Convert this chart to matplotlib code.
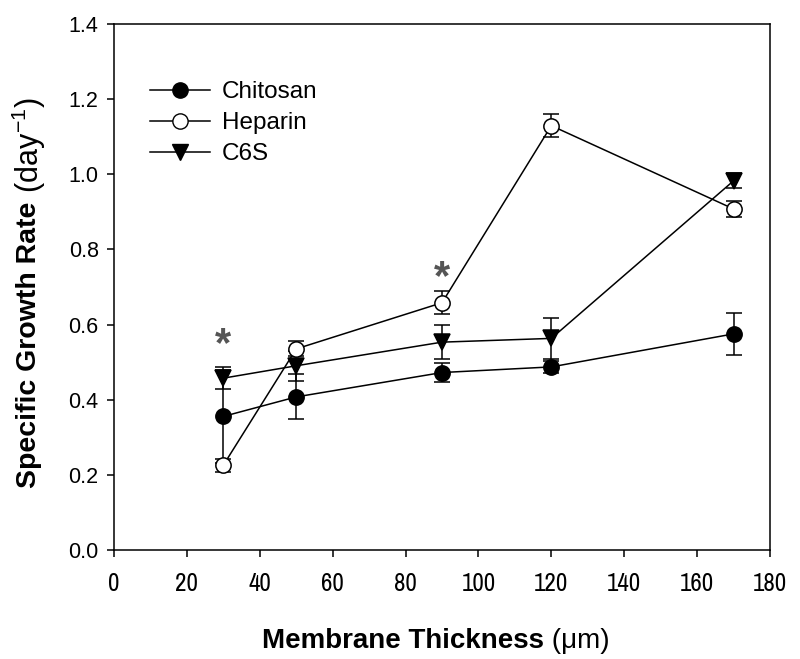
import numpy as np
import matplotlib
matplotlib.use('Agg')
from matplotlib import pyplot as plt
from matplotlib.lines import Line2D

thickness = [30, 50, 90, 120, 170]

chitosan = [0.355, 0.407, 0.472, 0.487, 0.575]
chitosan_err = [0.125, 0.06, 0.025, 0.015, 0.055]

heparin = [0.225, 0.535, 0.658, 1.13, 0.908]
heparin_err = [0.017, 0.02, 0.03, 0.03, 0.022]

c6s = [0.457, 0.49, 0.553, 0.563, 0.983]
c6s_err = [0.03, 0.04, 0.045, 0.055, 0.02]

star_x = [30, 90]
star_y = [0.545, 0.725]

x_ticks = [0, 20, 40, 60, 80, 100, 120, 140, 160, 180]
y_ticks = [0.0, 0.2, 0.4, 0.6, 0.8, 1.0, 1.2, 1.4]

plt.rcParams['font.family'] = ['Liberation Sans', 'DejaVu Sans']
plt.rcParams['mathtext.fontset'] = 'custom'
plt.rcParams['mathtext.rm'] = 'Liberation Sans'
plt.rcParams['mathtext.it'] = 'Liberation Sans:italic'
plt.rcParams['mathtext.bf'] = 'Liberation Sans:bold'
narrow = ['Archivo Narrow', 'Liberation Sans', 'DejaVu Sans']

fig = plt.figure(figsize=(8, 6.59), dpi=100)
ax = fig.add_axes([0.1425, 0.166, 0.82, 0.797])

common = dict(color='black', lw=1.1, elinewidth=1.1, capsize=6, capthick=1.1,
              markersize=11, markeredgewidth=1.1, markeredgecolor='black')
ax.errorbar(thickness, chitosan, yerr=chitosan_err, fmt='-o',
            markerfacecolor='black', zorder=3, **common)
ax.errorbar(thickness, c6s, yerr=c6s_err, fmt='-v',
            markerfacecolor='black', zorder=4, **common)
ax.errorbar(thickness, heparin, yerr=heparin_err, fmt='-o',
            markerfacecolor='white', zorder=5, **common)

for sx, sy in zip(star_x, star_y):
    ax.text(sx, sy, '*', fontsize=30, fontweight='bold', color='#555555',
            ha='center', va='center')

ax.set_xlim(0, 180)
ax.set_ylim(0, 1.4)
ax.set_xticks(x_ticks)
ax.set_xticklabels([str(t) for t in x_ticks], family=narrow, fontsize=18)
ax.set_yticks(y_ticks)
ax.set_yticklabels(['%.1f' % t for t in y_ticks], fontsize=15.5)
ax.tick_params(direction='out', length=5, width=1.1, pad=6)
ax.tick_params(axis='x', pad=11)
for s in ax.spines.values():
    s.set_linewidth(1.1)

xl = fig.text(0.3275, 0.017, 'Membrane Thickness', fontsize=20, fontweight='bold',
              ha='left', va='baseline')
ax.annotate(' (\u03bcm)', xy=(1, 0), xycoords=xl, fontsize=20,
            ha='left', va='bottom')

yl = fig.text(0.036, 0.26, 'Specific Growth Rate', fontsize=20.5, fontweight='bold',
              rotation=90, ha='center', va='bottom')
ax.annotate(r' (day$^{-1}$)', xy=(0.5, 1), xycoords=yl, fontsize=22, rotation=90,
            ha='center', va='bottom')

handles = [Line2D([], [], color='black', lw=1.1, marker='o', ms=11, mfc='black', mec='black'),
           Line2D([], [], color='black', lw=1.1, marker='o', ms=11, mfc='white', mec='black'),
           Line2D([], [], color='black', lw=1.1, marker='v', ms=11, mfc='black', mec='black')]
ax.legend(handles, ['Chitosan', 'Heparin', 'C6S'],
          loc='upper left', bbox_to_anchor=(0.172, 0.895), bbox_transform=fig.transFigure,
          frameon=False, fontsize=17.5, handlelength=2.47, handletextpad=0.5,
          labelspacing=0.37, borderpad=0)

fig.savefig('out.png', dpi=100)
